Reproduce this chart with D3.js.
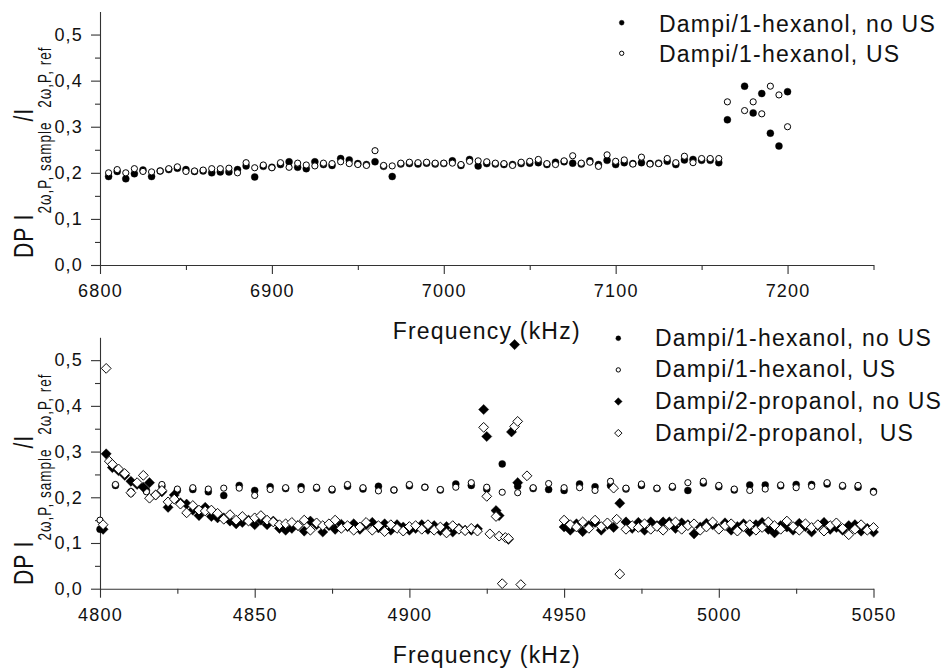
<!DOCTYPE html>
<html>
<head>
<meta charset="utf-8">
<script src="https://cdn.jsdelivr.net/npm/d3@7"></script>
<style>
  body { margin: 0; background: #fff; }
  svg { display: block; font-family: "Liberation Sans", Arial, sans-serif; }
  .axis text { font-size: 18px; letter-spacing: 1.2px; fill: #111; }
  .axis path, .axis line { stroke: #333; stroke-width: 1.1; }
  .title { font-size: 23px; letter-spacing: 1.2px; fill: #111; }
  .legend text { font-size: 23px; letter-spacing: 1.2px; fill: #111; white-space: pre; }
</style>
</head>
<body>
<div id="chart"></div>
<script>
// DP intensity ratio vs frequency, two panels

// ---- top panel: Dampi/1-hexanol (6800-7250 kHz) ----
const topNoUS = [
  [6805,0.192],[6810,0.203],[6815,0.187],[6820,0.198],[6825,0.206],[6830,0.192],[6835,0.204],[6840,0.207],
  [6845,0.210],[6850,0.207],[6855,0.203],[6860,0.204],[6865,0.200],[6870,0.202],[6875,0.202],[6880,0.207],
  [6885,0.215],[6890,0.191],[6895,0.214],[6900,0.212],[6905,0.218],[6910,0.224],[6915,0.212],[6920,0.209],
  [6925,0.224],[6930,0.218],[6935,0.216],[6940,0.231],[6945,0.228],[6950,0.220],[6955,0.218],[6960,0.224],
  [6965,0.214],[6970,0.192],[6975,0.219],[6980,0.220],[6985,0.219],[6990,0.221],[6995,0.219],[7000,0.220],
  [7005,0.226],[7010,0.216],[7015,0.229],[7020,0.215],[7025,0.220],[7030,0.219],[7035,0.218],[7040,0.218],
  [7045,0.220],[7050,0.221],[7055,0.222],[7060,0.218],[7065,0.223],[7070,0.224],[7075,0.221],[7080,0.219],
  [7085,0.226],[7090,0.218],[7095,0.227],[7100,0.218],[7105,0.222],[7110,0.220],[7115,0.222],[7120,0.220],
  [7125,0.221],[7130,0.225],[7135,0.218],[7140,0.228],[7145,0.229],[7150,0.227],[7155,0.227],[7160,0.222],
  [7165,0.315],[7175,0.388],[7180,0.330],[7185,0.372],[7190,0.286],[7195,0.258],[7200,0.376]
];
const topUS = [
  [6805,0.200],[6810,0.207],[6815,0.200],[6820,0.209],[6825,0.203],[6830,0.202],[6835,0.204],[6840,0.209],
  [6845,0.213],[6850,0.203],[6855,0.204],[6860,0.206],[6865,0.209],[6870,0.209],[6875,0.210],[6880,0.200],
  [6885,0.222],[6890,0.211],[6895,0.217],[6900,0.211],[6905,0.222],[6910,0.212],[6915,0.221],[6920,0.217],
  [6925,0.215],[6930,0.221],[6935,0.220],[6940,0.224],[6945,0.220],[6950,0.218],[6955,0.216],[6960,0.248],
  [6965,0.216],[6970,0.215],[6975,0.221],[6980,0.223],[6985,0.222],[6990,0.223],[6995,0.221],[7000,0.221],
  [7005,0.221],[7010,0.218],[7015,0.225],[7020,0.226],[7025,0.224],[7030,0.221],[7035,0.220],[7040,0.216],
  [7045,0.223],[7050,0.225],[7055,0.229],[7060,0.220],[7065,0.218],[7070,0.226],[7075,0.237],[7080,0.221],
  [7085,0.223],[7090,0.214],[7095,0.239],[7100,0.225],[7105,0.228],[7110,0.219],[7115,0.234],[7120,0.219],
  [7125,0.220],[7130,0.231],[7135,0.222],[7140,0.236],[7145,0.222],[7150,0.231],[7155,0.231],[7160,0.231],
  [7165,0.354],[7175,0.335],[7180,0.354],[7185,0.328],[7190,0.388],[7195,0.369],[7200,0.300]
];

// ---- bottom panel (4800-5050 kHz) ----
const hexNoUS = [
  [4800,0.130],[4805,0.226],[4810,0.212],[4815,0.215],[4820,0.224],[4825,0.215],[4830,0.217],[4835,0.212],
  [4840,0.204],[4845,0.226],[4850,0.215],[4855,0.223],[4860,0.219],[4865,0.223],[4870,0.220],[4875,0.216],
  [4880,0.224],[4885,0.218],[4890,0.224],[4895,0.216],[4900,0.225],[4905,0.222],[4910,0.216],[4915,0.229],
  [4920,0.226],[4925,0.218],[4930,0.273],[4935,0.224],[4940,0.219],[4945,0.217],[4950,0.215],[4955,0.229],
  [4960,0.223],[4965,0.226],[4970,0.218],[4975,0.226],[4980,0.219],[4985,0.222],[4990,0.215],[4995,0.231],
  [5000,0.223],[5005,0.216],[5010,0.227],[5015,0.227],[5020,0.225],[5025,0.228],[5030,0.228],[5035,0.229],
  [5040,0.224],[5045,0.222],[5050,0.213]
];
const hexUS = [
  [4800,0.150],[4805,0.228],[4810,0.208],[4815,0.212],[4820,0.228],[4825,0.218],[4830,0.221],[4835,0.218],
  [4840,0.220],[4845,0.220],[4850,0.204],[4855,0.217],[4860,0.221],[4865,0.217],[4870,0.222],[4875,0.218],
  [4880,0.228],[4885,0.221],[4890,0.214],[4895,0.216],[4900,0.228],[4905,0.222],[4910,0.217],[4915,0.222],
  [4920,0.232],[4925,0.222],[4930,0.211],[4935,0.210],[4940,0.221],[4945,0.230],[4950,0.221],[4955,0.221],
  [4960,0.215],[4965,0.235],[4970,0.220],[4975,0.229],[4980,0.220],[4985,0.224],[4990,0.232],[4995,0.235],
  [5000,0.226],[5005,0.218],[5010,0.215],[5015,0.218],[5020,0.227],[5025,0.221],[5030,0.224],[5035,0.232],
  [5040,0.226],[5045,0.226],[5050,0.211]
];
const propNoUS = [
  [4801,0.130],[4802,0.295],[4804,0.265],[4806,0.258],[4808,0.248],[4810,0.235],[4812,0.228],[4814,0.222],
  [4816,0.232],[4818,0.205],[4820,0.212],[4822,0.178],[4824,0.205],[4826,0.188],[4828,0.185],[4830,0.172],
  [4832,0.160],[4834,0.178],[4836,0.158],[4838,0.155],[4840,0.155],[4842,0.148],[4844,0.142],[4846,0.145],
  [4848,0.150],[4850,0.140],[4852,0.150],[4854,0.140],[4856,0.148],[4858,0.132],[4860,0.128],[4862,0.132],
  [4864,0.138],[4866,0.126],[4868,0.148],[4870,0.140],[4872,0.124],[4874,0.138],[4876,0.130],[4878,0.141],
  [4880,0.136],[4882,0.142],[4884,0.130],[4886,0.140],[4888,0.145],[4890,0.133],[4892,0.142],[4894,0.128],
  [4896,0.140],[4898,0.135],[4900,0.128],[4902,0.132],[4904,0.140],[4906,0.130],[4908,0.138],[4910,0.127],
  [4912,0.136],[4914,0.124],[4916,0.132],[4918,0.128],[4920,0.128],[4922,0.131],[4924,0.392],[4925,0.333],
  [4928,0.171],[4929,0.160],[4932,0.108],[4933,0.343],[4934,0.534],[4935,0.232],
  [4950,0.135],[4952,0.128],[4954,0.142],[4956,0.125],[4958,0.138],[4960,0.145],[4962,0.128],[4964,0.140],
  [4966,0.134],[4968,0.187],[4970,0.146],[4972,0.132],[4974,0.145],[4976,0.128],[4978,0.146],[4980,0.138],
  [4982,0.146],[4984,0.146],[4986,0.132],[4988,0.144],[4990,0.140],[4992,0.120],[4994,0.135],[4996,0.143],
  [4998,0.140],[5000,0.132],[5002,0.144],[5004,0.128],[5006,0.136],[5008,0.142],[5010,0.125],[5012,0.140],
  [5014,0.145],[5016,0.130],[5018,0.122],[5020,0.138],[5022,0.135],[5024,0.128],[5026,0.143],[5028,0.136],
  [5030,0.124],[5032,0.138],[5034,0.145],[5036,0.130],[5038,0.134],[5040,0.128],[5042,0.138],[5044,0.140],
  [5046,0.126],[5048,0.132],[5050,0.124]
];
const propUS = [
  [4801,0.140],[4802,0.482],[4803,0.279],[4804,0.272],[4806,0.262],[4808,0.252],[4810,0.210],[4812,0.232],
  [4814,0.248],[4816,0.198],[4818,0.205],[4820,0.215],[4822,0.190],[4824,0.196],[4826,0.185],[4828,0.166],
  [4830,0.182],[4832,0.172],[4834,0.170],[4836,0.172],[4838,0.165],[4840,0.152],[4842,0.162],[4844,0.150],
  [4846,0.158],[4848,0.148],[4850,0.155],[4852,0.160],[4854,0.150],[4856,0.146],[4858,0.140],[4860,0.142],
  [4862,0.145],[4864,0.138],[4866,0.150],[4868,0.128],[4870,0.144],[4872,0.138],[4874,0.142],[4876,0.150],
  [4878,0.132],[4880,0.138],[4882,0.128],[4884,0.135],[4886,0.145],[4888,0.128],[4890,0.138],[4892,0.125],
  [4894,0.140],[4896,0.132],[4898,0.126],[4900,0.136],[4902,0.138],[4904,0.130],[4906,0.140],[4908,0.128],
  [4910,0.135],[4912,0.122],[4914,0.138],[4916,0.130],[4918,0.127],[4920,0.132],[4922,0.126],[4924,0.353],
  [4925,0.202],[4926,0.120],[4928,0.158],[4929,0.115],[4930,0.011],[4931,0.112],[4932,0.110],[4934,0.355],
  [4935,0.366],[4936,0.009],[4938,0.247],
  [4950,0.150],[4952,0.140],[4954,0.135],[4956,0.146],[4958,0.132],[4960,0.150],[4962,0.136],[4964,0.144],
  [4966,0.220],[4967,0.152],[4968,0.032],[4970,0.130],[4972,0.138],[4974,0.134],[4976,0.142],[4978,0.130],
  [4980,0.136],[4982,0.128],[4984,0.140],[4986,0.146],[4988,0.130],[4990,0.138],[4992,0.142],[4994,0.128],
  [4996,0.135],[4998,0.146],[5000,0.130],[5002,0.138],[5004,0.142],[5006,0.126],[5008,0.136],[5010,0.140],
  [5012,0.128],[5014,0.134],[5016,0.146],[5018,0.138],[5020,0.130],[5022,0.148],[5024,0.136],[5026,0.128],
  [5028,0.142],[5030,0.134],[5032,0.140],[5034,0.126],[5036,0.138],[5038,0.144],[5040,0.132],[5042,0.118],
  [5044,0.130],[5046,0.140],[5048,0.128],[5050,0.134]
];

const topLegend = ["Dampi/1-hexanol, no US", "Dampi/1-hexanol, US"];
const botLegend = ["Dampi/1-hexanol, no US", "Dampi/1-hexanol, US", "Dampi/2-propanol, no US", "Dampi/2-propanol,  US"];
const yTicks = [0, 0.1, 0.2, 0.3, 0.4, 0.5];
const yMinor = [0.05, 0.15, 0.25, 0.35, 0.45];
const topXTicks = [6800, 6900, 7000, 7100, 7200];
const topXMinor = [6850, 6950, 7050, 7150, 7250];
const botXTicks = [4800, 4850, 4900, 4950, 5000, 5050];
const botXMinor = [4825, 4875, 4925, 4975, 5025];

const W = 946, H = 668;
const svg = d3.select("#chart").append("svg")
  .attr("width", W).attr("height", H);
svg.append("rect").attr("width", W).attr("height", H).attr("fill", "#fff");

const fmt = d => d3.format(".1f")(d).replace(".", ",");

const panels = [
  { x: d3.scaleLinear().domain([6800, 7250]).range([100, 873.5]),
    y: d3.scaleLinear().domain([0, 0.55]).range([265, 11.5]),
    xt: topXTicks, xm: topXMinor,
    series: [{ data: topNoUS, shape: "circle", open: false }, { data: topUS, shape: "circle", open: true }],
    titleY: 339, labelY: 258 },
  { x: d3.scaleLinear().domain([4800, 5050]).range([100, 873.5]),
    y: d3.scaleLinear().domain([0, 0.55]).range([588.7, 337.3]),
    xt: botXTicks, xm: botXMinor,
    series: [{ data: hexNoUS, shape: "circle", open: false }, { data: hexUS, shape: "circle", open: true },
             { data: propNoUS, shape: "diamond", open: false }, { data: propUS, shape: "diamond", open: true }],
    titleY: 663, labelY: 585 }
];

function drawMarker(g, shape, open, cx, cy, scale) {
  if (shape === "circle") {
    g.append("circle").attr("cx", cx).attr("cy", cy)
      .attr("r", (open ? 3.1 : 3.5) * scale)
      .attr("fill", open ? "#fff" : "#000")
      .attr("stroke", "#000").attr("stroke-width", open ? 1 : 0.4);
  } else {
    g.append("path").attr("d", d3.symbol().type(d3.symbolSquare).size((open ? 48 : 52) * scale * scale)())
      .attr("transform", `translate(${cx},${cy}) rotate(45)`)
      .attr("fill", open ? "#fff" : "#000")
      .attr("stroke", "#000").attr("stroke-width", open ? 0.9 : 0.4);
  }
}

panels.forEach(p => {
  const y0 = p.y(0);
  const gx = svg.append("g").attr("class", "axis").attr("transform", `translate(0,${y0})`);
  gx.call(d3.axisBottom(p.x).tickValues(p.xm).tickSize(5).tickSizeOuter(0).tickFormat(""));
  gx.append("g").call(d3.axisBottom(p.x).tickValues(p.xt).tickSize(9).tickSizeOuter(0).tickPadding(10.5).tickFormat(d3.format("d")))
    .call(g => g.select(".domain").remove());
  gx.selectAll("text").attr("fill", "#111").attr("font-size", null);

  const gy = svg.append("g").attr("class", "axis").attr("transform", `translate(${p.x.range()[0]},0)`);
  gy.call(d3.axisLeft(p.y).tickValues(yMinor).tickSize(5).tickSizeOuter(0).tickFormat(""));
  gy.append("g").call(d3.axisLeft(p.y).tickValues(yTicks).tickSize(9).tickSizeOuter(0).tickPadding(8).tickFormat(fmt))
    .call(g => g.select(".domain").remove());
  gy.selectAll("text").attr("fill", "#111").attr("font-size", null);
  svg.selectAll(".axis").attr("font-family", null);

  const gm = svg.append("g");
  p.series.forEach(s => {
    s.data.forEach(d => drawMarker(gm, s.shape, s.open, p.x(d[0]), p.y(d[1]), 1));
  });

  svg.append("text").attr("class", "title")
    .attr("x", (p.x.range()[0] + p.x.range()[1]) / 2).attr("y", p.titleY)
    .attr("text-anchor", "middle").text("Frequency (kHz)");

  // rotated y label with subscripts
  const lab = svg.append("text")
    .attr("transform", `translate(33,${p.labelY}) rotate(-90) scale(1,1.33)`)
    .attr("font-size", 21).attr("letter-spacing", 1).attr("fill", "#111");
  lab.append("tspan").text("DP I");
  lab.append("tspan").attr("font-size", 13.5).attr("dy", 13.3).text("2ω,P, sample");
  lab.append("tspan").attr("dy", -13.3).text("/I");
  lab.append("tspan").attr("font-size", 13.5).attr("dy", 13.3).text("2ω,P, ref");
});

// legends
function legend(items, shapes, mx, tx, y0, step, base) {
  const g = svg.append("g").attr("class", "legend");
  items.forEach((t, i) => {
    const cy = y0 + i * step;
    drawMarker(g, shapes[i][0], shapes[i][1], mx, cy, shapes[i][0] === "circle" ? 0.7 : 0.75);
    g.append("text").attr("x", tx).attr("y", cy + base).attr("xml:space", "preserve").text(t);
  });
}
legend(topLegend, [["circle", false], ["circle", true]], 621.7, 659, 22.7, 30.6, 9);
legend(botLegend, [["circle", false], ["circle", true], ["diamond", false], ["diamond", true]], 618.3, 655, 338.3, 31.6, 7.4);
</script>
</body>
</html>
